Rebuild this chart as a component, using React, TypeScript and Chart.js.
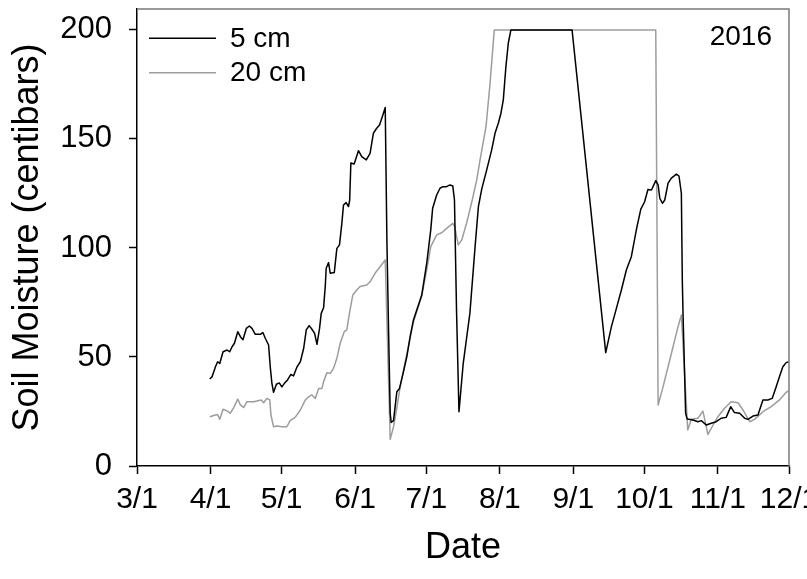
import React, { useEffect, useRef } from "react";
import { Chart, registerables } from "chart.js";

Chart.register(...registerables);

// Days counted from March 1, 2016 (3/1 = day 0)
const DAYS_5CM = [
  30.7, 31.7, 33.1, 34.0, 34.9, 36.3, 38.0, 39.1, 40.1, 41.1, 42.5, 43.6, 44.7, 46.1, 47.4, 48.5,
  49.9, 52.0, 53.1, 54.1, 55.5, 56.2, 56.9, 57.6, 58.8, 60.0, 61.1, 62.1, 63.5, 64.9, 66.0, 67.5,
  68.9, 70.3, 71.4, 72.6, 73.8, 74.9, 75.9, 77.0, 77.7, 78.7, 79.4, 79.8, 80.8, 81.5, 83.2, 84.3,
  85.4, 86.4, 87.1, 88.2, 89.2, 89.7, 90.2, 91.6, 93.4, 94.8, 96.7, 98.3, 99.7, 101.1, 102.3, 103.7,
  104.7, 105.4, 106.1, 106.8, 107.2, 108.2, 109.6, 110.7, 112.4, 113.8, 115.2, 116.6, 120.1, 122.2,
  123.9, 124.7, 126.4, 127.8, 129.0, 130.6, 132.0, 133.2, 133.9, 134.8, 135.8, 137.6, 140.4, 142.6,
  144.0, 145.4, 147.5, 149.6, 151.0, 152.4, 153.5, 154.5, 155.6, 156.6, 157.7, 183.5, 197.7, 200.1,
  202.2, 204.3, 206.4, 208.5, 210.7, 212.5, 214.1, 215.5, 217.0, 218.8, 219.8, 220.5, 221.6, 222.6,
  224.0, 225.4, 227.5, 228.6, 229.6, 230.0, 230.3, 231.4, 232.0, 234.5, 236.6, 238.0, 240.1, 242.2,
  244.3, 246.4, 248.5, 250.4, 252.0, 254.2, 256.3, 257.7, 259.8, 261.9, 264.0, 266.1, 267.9, 269.6,
  271.0, 272.4, 273.8, 274.8,
];
const SM_5CM = [
  39.9, 41.0, 45.5, 47.8, 47.0, 52.4, 53.2, 52.4, 54.7, 56.3, 61.6, 59.3, 57.9, 63.1, 64.2, 63.1,
  60.4, 60.4, 61.2, 58.6, 55.5, 45.5, 37.9, 33.8, 37.5, 38.1, 36.3, 37.8, 39.5, 42.0, 41.3, 45.5,
  47.8, 54.0, 62.4, 64.4, 62.7, 60.9, 55.8, 63.1, 70.0, 72.6, 82.3, 90.7, 93.3, 88.4, 88.7, 99.8,
  101.4, 111.3, 119.7, 120.8, 119.0, 122.0, 139.0, 138.5, 144.6, 141.9, 140.4, 143.4, 152.6, 154.9, 156.4, 161.0,
  164.4, 103.7, 62.4, 24.2, 20.0, 20.8, 34.1, 35.5, 43.3, 50.1, 59.3, 67.0, 78.4, 93.0,
  108.3, 118.2, 124.3, 127.4, 128.1, 128.1, 128.9, 128.4, 122.0, 70.0, 24.9, 47.1, 70.0, 100.6,
  119.0, 127.0, 135.8, 145.0, 152.6, 157.2, 161.8, 167.9, 183.2, 193.9, 200.0, 200.0, 52.0, 63.9,
  72.3, 80.7, 89.9, 96.0, 108.8, 117.8, 121.2, 126.8, 126.6, 130.9, 128.9, 122.8, 120.5, 122.0,
  129.7, 132.0, 133.9, 133.0, 125.1, 85.3, 70.0, 24.2, 21.6, 21.1, 20.3, 20.8, 18.8, 19.6,
  20.3, 21.9, 22.3, 27.2, 24.5, 24.2, 21.9, 21.4, 22.9, 23.4, 30.3, 30.3, 31.0, 36.4,
  41.0, 45.5, 47.4, 47.8,
];

const DAYS_20CM = [
  30.7, 33.0, 34.0, 34.9, 36.3, 38.0, 39.3, 40.8, 42.5, 43.6, 45.0, 46.4, 49.2, 52.4, 53.4, 54.8,
  56.0, 56.5, 57.6, 59.0, 61.1, 63.2, 64.6, 66.7, 68.9, 71.0, 72.4, 73.8, 75.2, 76.6, 78.0, 78.7,
  80.1, 81.5, 82.9, 84.3, 85.7, 87.4, 88.5, 89.6, 91.0, 92.7, 94.1, 96.9, 98.3, 100.4, 102.5, 104.7,
  106.8, 108.2, 109.5, 111.0, 113.0, 116.6, 120.1, 122.2, 123.9, 126.4, 128.5, 130.6, 133.2, 134.0,
  135.5, 137.0, 139.0, 141.4, 143.3, 144.7, 147.2, 148.9, 150.7, 218.8, 219.8, 221.9, 224.0, 226.1,
  228.2, 229.6, 232.3, 233.8, 236.6, 238.7, 240.8, 243.0, 245.0, 247.8, 250.6, 253.5, 255.6, 258.4,
  260.5, 264.0, 267.5, 271.0, 273.8, 274.8,
];
const SM_20CM = [
  22.6, 23.4, 23.6, 21.4, 26.0, 25.3, 24.2, 26.8, 30.7, 28.0, 26.8, 29.5, 29.5, 30.3, 29.0, 31.0,
  30.3, 23.4, 18.0, 18.3, 18.0, 18.0, 20.8, 22.3, 25.7, 30.3, 31.8, 32.6, 31.0, 35.6, 35.6, 38.7,
  42.8, 42.5, 44.8, 49.4, 56.3, 61.6, 62.4, 70.0, 78.4, 80.7, 82.3, 83.0, 84.5, 88.4, 91.4, 94.5,
  12.2, 18.0, 26.0, 36.4, 47.0, 66.0, 78.0, 90.0, 100.6, 106.0, 107.0, 109.0, 111.3, 109.8,
  101.4, 103.7, 111.3, 122.0, 131.2, 140.4, 155.6, 175.5, 200.0, 200.0, 28.0, 36.4, 45.5, 54.7,
  63.9, 69.3, 16.5, 21.4, 21.9, 25.2, 14.5, 18.8, 22.6, 26.5, 29.5, 29.0, 25.7, 20.3,
  21.4, 24.9, 27.2, 30.3, 33.8, 34.5,
];

const TICK_DAYS = [0, 31, 61, 92, 122, 153, 184, 214, 245, 275];
const TICK_LABELS = ["3/1", "4/1", "5/1", "6/1", "7/1", "8/1", "9/1", "10/1", "11/1", "12/1"];
const Y_TICKS = [0, 50, 100, 150, 200];
const SERIES_LABELS = ["5 cm", "20 cm"];
const YEAR_LABEL = "2016";
const X_TITLE = "Date";
const Y_TITLE = "Soil Moisture (centibars)";

const FONT = "'Liberation Sans', Arial, Helvetica, sans-serif";

const overlayPlugin = {
  id: "overlay",
  afterDraw(chart: any) {
    const { ctx, chartArea } = chart;
    ctx.save();
    // frame top & right
    ctx.strokeStyle = "#7a7a7a";
    ctx.lineWidth = 1.5;
    ctx.beginPath();
    ctx.moveTo(chartArea.left, chartArea.top);
    ctx.lineTo(chartArea.right, chartArea.top);
    ctx.lineTo(chartArea.right, chartArea.bottom);
    ctx.stroke();
    // legend
    ctx.font = `28px ${FONT}`;
    ctx.textBaseline = "middle";
    chart.data.datasets.forEach((d: any, i: number) => {
      const y = chartArea.top + 29.3 + i * 34.4;
      ctx.strokeStyle = d.borderColor;
      ctx.lineWidth = d.borderWidth;
      ctx.beginPath();
      ctx.moveTo(chartArea.left + 12, y);
      ctx.lineTo(chartArea.left + 79, y);
      ctx.stroke();
      ctx.fillStyle = "#000";
      ctx.textAlign = "left";
      ctx.fillText(d.label, chartArea.left + 93, y + 0.5);
    });
    ctx.textAlign = "right";
    ctx.fillStyle = "#000";
    ctx.fillText(YEAR_LABEL, chartArea.right - 17, chartArea.top + 28);
    ctx.restore();
  },
};

export default function App() {
  const ref = useRef<HTMLCanvasElement | null>(null);

  useEffect(() => {
    if (!ref.current) return;
    const chart = new Chart(ref.current, {
      type: "line",
      data: {
        datasets: [
          {
            label: SERIES_LABELS[0],
            data: DAYS_5CM.map((d, i) => ({ x: d, y: SM_5CM[i] })),
            borderColor: "#000000",
            borderWidth: 1.5,
            pointRadius: 0,
            tension: 0,
            borderJoinStyle: "round",
            fill: false,
          },
          {
            label: SERIES_LABELS[1],
            data: DAYS_20CM.map((d, i) => ({ x: d, y: SM_20CM[i] })),
            borderColor: "#9d9d9d",
            borderWidth: 1.5,
            pointRadius: 0,
            tension: 0,
            borderJoinStyle: "round",
            fill: false,
          },
        ],
      },
      options: {
        animation: false,
        responsive: true,
        maintainAspectRatio: false,
        layout: { padding: { top: 9, right: 18, left: 0, bottom: 0 } },
        plugins: {
          legend: { display: false },
          tooltip: { enabled: false },
        },
        scales: {
          x: {
            type: "linear",
            min: 0,
            max: 275,
            afterBuildTicks: (s: any) => {
              s.ticks = TICK_DAYS.map((v) => ({ value: v }));
            },
            afterFit: (s: any) => {
              s.height = 113;
              s.paddingLeft = 0;
              s.paddingRight = 0;
            },
            grid: {
              drawOnChartArea: false,
              drawTicks: true,
              tickLength: 8,
              tickColor: "#000",
              tickWidth: 1.5,
            },
            border: { display: true, color: "#000", width: 1.5 },
            ticks: {
              autoSkip: false,
              maxRotation: 0,
              minRotation: 0,
              color: "#000",
              padding: 8,
              font: { size: 30, family: FONT },
              callback: (_v: any, i: number) => TICK_LABELS[i],
            },
            title: {
              display: true,
              text: X_TITLE,
              color: "#000",
              font: { size: 36, family: FONT, lineHeight: 1 },
              padding: { top: 0, bottom: 13 },
            },
          },
          y: {
            type: "linear",
            min: 0,
            max: 209.6,
            afterBuildTicks: (s: any) => {
              s.ticks = Y_TICKS.map((v) => ({ value: v }));
            },
            afterFit: (s: any) => {
              s.width = 137;
              s.paddingTop = 0;
              s.paddingBottom = 0;
            },
            grid: {
              drawOnChartArea: false,
              drawTicks: true,
              tickLength: 8,
              tickColor: "#000",
              tickWidth: 1.5,
            },
            border: { display: true, color: "#000", width: 1.5 },
            ticks: {
              color: "#000",
              padding: 17,
              font: { size: 31, family: FONT },
            },
            title: {
              display: true,
              text: Y_TITLE,
              color: "#000",
              font: { size: 36, family: FONT, lineHeight: 1 },
              padding: { top: 10, bottom: 0 },
            },
          },
        },
      },
      plugins: [overlayPlugin],
    } as any);
    return () => chart.destroy();
  }, []);

  return (
    <div style={{ position: "fixed", left: 0, top: 0, width: 807, height: 579, background: "#fff" }}>
      <canvas ref={ref} />
    </div>
  );
}
